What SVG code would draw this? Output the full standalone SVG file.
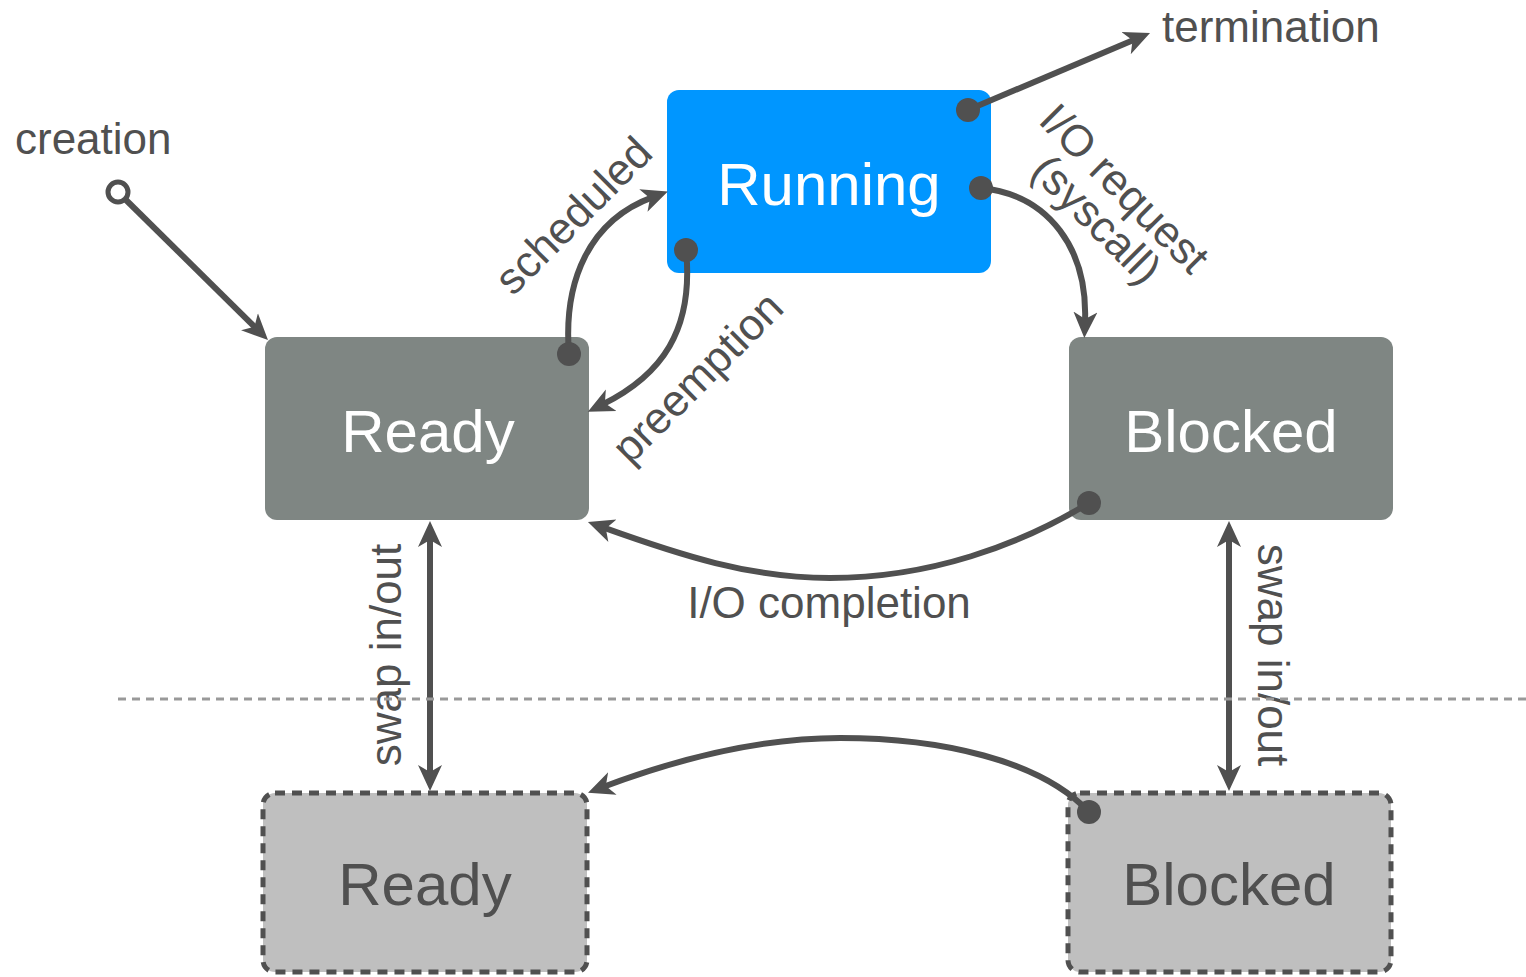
<svg xmlns="http://www.w3.org/2000/svg" width="1526" height="977" viewBox="0 0 1526 977">
  <style>
    .lbl { font-family: "Liberation Sans", Arial, sans-serif; font-size: 44px; fill: #505050; }
    .state { font-family: "Liberation Sans", Arial, sans-serif; font-size: 60px; text-anchor: middle; }
    .on { fill: #ffffff; }
    .off { fill: #505050; }
    .edge { fill: none; stroke: #505050; stroke-width: 6; }
    .arrow { marker-end: url(#head); }
    .both { marker-start: url(#head); marker-end: url(#head); }
    .dot { fill: #505050; }
    .swapped { fill: #bfbfbf; stroke: #505050; stroke-width: 5; stroke-dasharray: 10 7; }
  </style>
  <defs>
    <marker id="head" markerUnits="userSpaceOnUse" viewBox="0 0 30 30" markerWidth="30" markerHeight="30" refX="10" refY="15" orient="auto-start-reverse">
      <path d="M0,3 L26,15 L0,27 L7,15 z" fill="#505050"/>
    </marker>
  </defs>

  <rect width="1526" height="977" fill="#ffffff"/>

  <!-- states in memory -->
  <g id="running">
    <rect x="667" y="90" width="324" height="183" rx="12" fill="#0096ff"/>
    <text class="state on" x="829" y="205">Running</text>
  </g>
  <g id="ready">
    <rect x="265" y="337" width="324" height="183" rx="12" fill="#7f8683"/>
    <text class="state on" x="428" y="452">Ready</text>
  </g>
  <g id="blocked">
    <rect x="1069" y="337" width="324" height="183" rx="12" fill="#7f8683"/>
    <text class="state on" x="1231" y="452">Blocked</text>
  </g>

  <!-- swapped-out states -->
  <g id="ready-swapped">
    <rect class="swapped" x="263" y="793" width="324" height="179" rx="12"/>
    <text class="state off" x="425" y="905">Ready</text>
  </g>
  <g id="blocked-swapped">
    <rect class="swapped" x="1068" y="793" width="323" height="179" rx="12"/>
    <text class="state off" x="1229" y="905">Blocked</text>
  </g>

  <!-- transitions -->
  <g id="connectors">
    <!-- creation -->
    <circle cx="118" cy="192" r="10" fill="#ffffff" stroke="#505050" stroke-width="5"/>
    <path class="edge arrow" d="M125,199 L256.6,328.8"/>
    <!-- termination -->
    <path class="edge arrow" d="M968,110 L1135.3,39.2"/>
    <circle class="dot" cx="968" cy="110" r="12"/>
    <!-- scheduled -->
    <path class="edge arrow" d="M569,354 C563,280 590,220 652.8,197.1"/>
    <circle class="dot" cx="569" cy="354" r="12"/>
    <!-- preemption -->
    <path class="edge arrow" d="M686,250 C694,330 662,375 602.2,404.6"/>
    <circle class="dot" cx="686" cy="250" r="12"/>
    <!-- I/O request -->
    <path class="edge arrow" d="M981,188 C1050,195 1088,250 1085,322"/>
    <circle class="dot" cx="981" cy="188" r="12"/>
    <!-- I/O completion -->
    <path class="edge arrow" d="M1089,503 C1020,545 930,578 830,578 C750,578 680,555 603,527.4"/>
    <circle class="dot" cx="1089" cy="503" r="12"/>
    <!-- swapped blocked to swapped ready -->
    <path class="edge arrow" d="M1089,812 C1040,760 940,738 840,738 C760,738 680,758 603,787"/>
    <circle class="dot" cx="1089" cy="812" r="12"/>
    <!-- swap in/out -->
    <path class="edge both" d="M430,537 L430,775"/>
    <path class="edge both" d="M1229,537 L1229,775"/>
  </g>

  <!-- transition labels -->
  <g id="labels">
    <text class="lbl" x="15" y="154">creation</text>
    <text class="lbl" x="1162" y="42">termination</text>
    <text class="lbl" text-anchor="middle" transform="translate(584,226) rotate(-45)">scheduled</text>
    <text class="lbl" text-anchor="middle" transform="translate(708,388) rotate(-45)">preemption</text>
    <text class="lbl" text-anchor="middle" transform="translate(1114,199) rotate(45)">I/O request</text>
    <text class="lbl" text-anchor="middle" transform="translate(1086,230) rotate(45)">(syscall)</text>
    <text class="lbl" text-anchor="middle" x="829" y="618">I/O completion</text>
    <text class="lbl" text-anchor="middle" transform="translate(401,655) rotate(-90)">swap in/out</text>
    <text class="lbl" text-anchor="middle" transform="translate(1258,655) rotate(90)">swap in/out</text>
  </g>

  <!-- memory / swap boundary -->
  <line x1="118" y1="699" x2="1526" y2="699" stroke="#999999" stroke-width="3" stroke-dasharray="8 6"/>
</svg>
